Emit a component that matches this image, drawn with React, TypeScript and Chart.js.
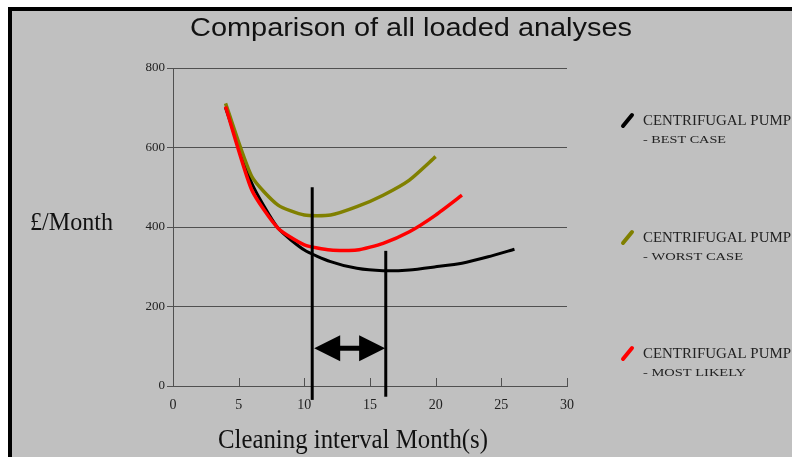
import React, { useEffect, useRef } from "react";
import { Chart, registerables } from "chart.js";

Chart.register(...registerables);

// ---- data ----
const bestX = [4, 6, 8, 10, 12, 14, 16, 18, 20, 22, 24, 26];
const bestY = [700, 510, 397, 342, 313, 296, 290, 292, 300, 309, 325, 344];
const worstX = [4, 6, 8, 10, 12, 14, 16, 18, 20];
const worstY = [711, 527, 455, 430, 430, 451, 480, 518, 577];
const likelyX = [4, 6, 8, 10, 12, 14, 16, 18, 20, 22];
const likelyY = [703, 493, 397, 355, 342, 342, 359, 388, 430, 480];

const seriesNames = ["CENTRIFUGAL PUMP", "CENTRIFUGAL PUMP", "CENTRIFUGAL PUMP"];
const seriesSub = ["- BEST CASE", "- WORST CASE", "- MOST LIKELY"];

const markerX = [10.6, 16.2];
const markerTop = [500, 340];
const markerBottom = [-35, -27];
const arrowFrom = 10.75;
const arrowTo = 16.15;
const arrowY = 95;

const xTicks = [0, 5, 10, 15, 20, 25, 30];

const titleText = "Comparison of all loaded analyses";
const yTitle = "£/Month";
const xTitle = "Cleaning interval Month(s)";

const BLACK = "#000000";
const OLIVE = "#808000";
const RED = "#ff0000";

function pts(xs: number[], ys: number[]) {
  return xs.map((x, i) => ({ x, y: ys[i] }));
}

function fitText(
  ctx: CanvasRenderingContext2D,
  text: string,
  font: string,
  left: number,
  baseline: number,
  width: number
) {
  ctx.save();
  ctx.font = font;
  ctx.textAlign = "left";
  ctx.textBaseline = "alphabetic";
  const w = ctx.measureText(text).width;
  const s = width / w;
  ctx.translate(left, baseline);
  ctx.scale(s, 1);
  ctx.fillText(text, 0, 0);
  ctx.restore();
}

const framePlugin = {
  id: "frame",
  beforeDraw(chart: any) {
    const ctx = chart.ctx as CanvasRenderingContext2D;
    ctx.save();
    ctx.fillStyle = "#ffffff";
    ctx.fillRect(0, 0, 792, 457);
    ctx.fillStyle = "#c0c0c0";
    ctx.fillRect(8, 7, 784, 450);
    ctx.fillStyle = "#000000";
    ctx.fillRect(8, 7, 4, 450);
    ctx.fillRect(8, 7, 784, 4);
    ctx.fillStyle = "#111111";
    fitText(ctx, titleText, "26px 'Liberation Sans'", 190, 36, 442);
    fitText(ctx, yTitle, "26px 'Liberation Serif'", 30, 230, 83);
    fitText(ctx, xTitle, "27px 'Liberation Serif'", 218, 448, 270);
    ctx.restore();
  },
  afterDatasetsDraw(chart: any) {
    const ctx = chart.ctx as CanvasRenderingContext2D;
    const xs = chart.scales.x;
    const ys = chart.scales.y;
    const bottom = ys.getPixelForValue(0);
    ctx.save();
    // upward x ticks
    ctx.strokeStyle = "#505050";
    ctx.lineWidth = 1;
    xTicks.forEach((t) => {
      const px = Math.round(xs.getPixelForValue(t)) + 0.5;
      ctx.beginPath();
      ctx.moveTo(px, bottom);
      ctx.lineTo(px, bottom - 8);
      ctx.stroke();
    });
    // marker lines
    ctx.strokeStyle = "#000";
    ctx.lineWidth = 3;
    markerX.forEach((mx, i) => {
      const px = xs.getPixelForValue(mx);
      ctx.beginPath();
      ctx.moveTo(px, ys.getPixelForValue(markerTop[i]));
      ctx.lineTo(px, ys.getPixelForValue(markerBottom[i]));
      ctx.stroke();
    });
    // double arrow
    const ax1 = xs.getPixelForValue(arrowFrom);
    const ax2 = xs.getPixelForValue(arrowTo);
    const ay = ys.getPixelForValue(arrowY);
    const headL = 26;
    const headH = 13;
    ctx.lineWidth = 5;
    ctx.beginPath();
    ctx.moveTo(ax1 + headL - 2, ay);
    ctx.lineTo(ax2 - headL + 2, ay);
    ctx.stroke();
    ctx.fillStyle = "#000";
    ctx.beginPath();
    ctx.moveTo(ax1, ay);
    ctx.lineTo(ax1 + headL, ay - headH);
    ctx.lineTo(ax1 + headL, ay + headH);
    ctx.closePath();
    ctx.fill();
    ctx.beginPath();
    ctx.moveTo(ax2, ay);
    ctx.lineTo(ax2 - headL, ay - headH);
    ctx.lineTo(ax2 - headL, ay + headH);
    ctx.closePath();
    ctx.fill();

    // legend
    const colors = [BLACK, OLIVE, RED];
    const baselines = [125, 242, 358];
    const subWidths = [83, 100, 103];
    baselines.forEach((b, i) => {
      ctx.strokeStyle = colors[i];
      ctx.lineWidth = 4;
      ctx.lineCap = "round";
      ctx.beginPath();
      ctx.moveTo(623, b + 1);
      ctx.lineTo(632, b - 10);
      ctx.stroke();
      ctx.fillStyle = "#222";
      fitText(ctx, seriesNames[i], "15px 'Liberation Serif'", 643, b, 148);
      fitText(ctx, seriesSub[i], "11px 'Liberation Serif'", 643, b + 18, subWidths[i]);
    });
    ctx.restore();
  },
};

export default function App() {
  const ref = useRef<HTMLCanvasElement | null>(null);
  useEffect(() => {
    if (!ref.current) return;
    const chart = new Chart(ref.current, {
      type: "line",
      data: {
        datasets: [
          {
            label: seriesNames[2] + " " + seriesSub[2],
            data: pts(likelyX, likelyY),
            borderColor: RED,
            borderWidth: 3.5,
            pointRadius: 0,
            tension: 0.2,
            order: 0,
          },
          {
            label: seriesNames[1] + " " + seriesSub[1],
            data: pts(worstX, worstY),
            borderColor: OLIVE,
            borderWidth: 3.5,
            pointRadius: 0,
            tension: 0.2,
            order: 1,
          },
          {
            label: seriesNames[0] + " " + seriesSub[0],
            data: pts(bestX, bestY),
            borderColor: BLACK,
            borderWidth: 3,
            pointRadius: 0,
            tension: 0.2,
            order: 2,
          },
        ],
      },
      options: {
        responsive: false,
        animation: false,
        devicePixelRatio: 1,
        layout: { padding: { left: 0, top: 68, right: 225, bottom: 0 } },
        plugins: { legend: { display: false }, title: { display: false }, tooltip: { enabled: false } },
        scales: {
          x: {
            type: "linear",
            min: 0,
            max: 30,
            afterFit: (s: any) => {
              s.height = 71;
            },
            afterBuildTicks: (s: any) => {
              s.ticks = xTicks.map((v) => ({ value: v }));
            },
            ticks: {
              padding: 11,
              color: "#222",
              font: { family: "'Liberation Serif'", size: 14 },
            },
            grid: { drawOnChartArea: false, drawTicks: false },
            border: { display: true, color: "#505050", width: 1 },
          },
          y: {
            type: "linear",
            min: 0,
            max: 800,
            afterFit: (s: any) => {
              s.width = 173;
            },
            ticks: {
              stepSize: 200,
              padding: 2,
              color: "#222",
              font: { family: "'Liberation Serif'", size: 13 },
            },
            grid: { color: "#505050", lineWidth: 1, tickLength: 6 },
            border: { display: true, color: "#505050", width: 1 },
          },
        },
      },
      plugins: [framePlugin],
    } as any);
    return () => chart.destroy();
  }, []);
  return (
    <div style={{ position: "absolute", left: 0, top: 0, width: 792, height: 457 }}>
      <canvas ref={ref} width={792} height={457} style={{ display: "block" }} />
    </div>
  );
}
